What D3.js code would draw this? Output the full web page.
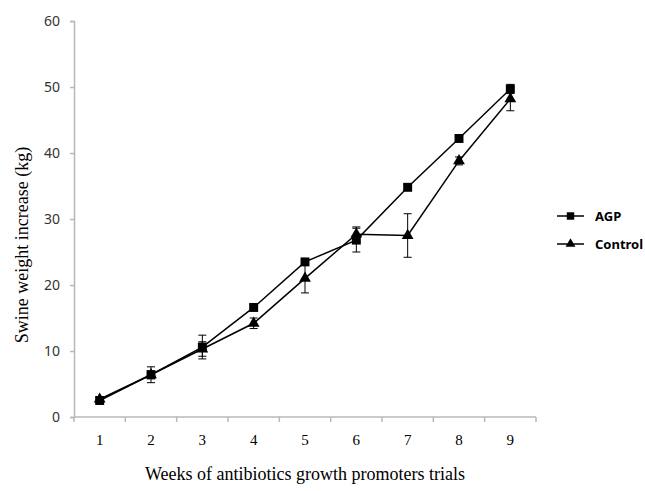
<!DOCTYPE html>
<html>
<head>
<meta charset="utf-8">
<script src="https://cdn.jsdelivr.net/npm/d3@7/dist/d3.min.js"></script>
<style>
  body { margin: 0; background: #fff; }
</style>
</head>
<body>
<div id="chart"></div>
<script>

// data
let weeks = ["1", "2", "3", "4", "5", "6", "7", "8", "9"];
let agp = [2.5, 6.4, 10.6, 16.6, 23.5, 26.8, 34.8, 42.2, 49.7];
let agpErr = [0.4, 1.2, 1.8, 0.5, 0.5, 1.8, 0.4, 0.3, 0.7];
let control = [2.7, 6.4, 10.3, 14.2, 21.0, 27.7, 27.5, 38.8, 48.2];
let controlErr = [0.3, 0.6, 1.1, 0.8, 2.2, 1.1, 3.3, 0.6, 1.8];
let yTicks = [0, 10, 20, 30, 40, 50, 60];

let svgWidth = 645, svgHeight = 491;
let margin = {top: 21, left: 74, right: 109, bottom: 74};
let width = svgWidth - margin.left - margin.right,
    height = svgHeight - margin.top - margin.bottom;

let svg = d3.select("#chart").append("svg")
    .attr("width", svgWidth)
    .attr("height", svgHeight);

let g = svg.append("g")
    .attr("transform", "translate(" + margin.left + "," + margin.top + ")");

let x = d3.scaleBand().domain(weeks).range([0, width]);
let y = d3.scaleLinear().domain([0, 60]).range([height, 0]);

// y axis
let yAxis = g.append("g")
    .call(d3.axisLeft(y).tickValues(yTicks).tickSize(4).tickSizeOuter(4).tickPadding(10));
yAxis.select(".domain").attr("stroke", "#b8b8b8").attr("stroke-width", 1.5);
yAxis.selectAll(".tick line").attr("stroke", "#b8b8b8").attr("stroke-width", 1.5);
yAxis.selectAll("text")
    .attr("font-family", "'Noto Sans', sans-serif")
    .attr("font-size", "14px")
    .attr("fill", "#333");

// x axis: ticks between categories
let xAxis = g.append("g")
    .attr("transform", "translate(0," + height + ")");
xAxis.append("line")
    .attr("x1", 0).attr("x2", width)
    .attr("stroke", "#b8b8b8").attr("stroke-width", 1.5);
let bounds = [0].concat(weeks.map(function(d) { return x(d) + x.bandwidth(); }));
xAxis.selectAll(".sep")
    .data(bounds)
    .enter().append("line")
    .attr("x1", function(d) { return d; })
    .attr("x2", function(d) { return d; })
    .attr("y1", 0).attr("y2", 5)
    .attr("stroke", "#b8b8b8").attr("stroke-width", 1.5);
xAxis.selectAll(".lab")
    .data(weeks)
    .enter().append("text")
    .attr("x", function(d) { return x(d) + x.bandwidth() / 2; })
    .attr("y", 28)
    .attr("text-anchor", "middle")
    .attr("font-family", "'Liberation Serif', serif")
    .attr("font-size", "15px")
    .attr("fill", "#000")
    .text(function(d) { return d; });

// axis titles
svg.append("text")
    .attr("x", 305).attr("y", 480)
    .attr("text-anchor", "middle")
    .attr("font-family", "'Liberation Serif', serif")
    .attr("font-size", "18px")
    .text("Weeks of antibiotics growth promoters trials");

svg.append("text")
    .attr("transform", "translate(28,245) rotate(-90)")
    .attr("text-anchor", "middle")
    .attr("font-family", "'Liberation Serif', serif")
    .attr("font-size", "18px")
    .text("Swine weight increase (kg)");

let cx = function(i) { return x(weeks[i]) + x.bandwidth() / 2; };
let line = d3.line()
    .x(function(d, i) { return cx(i); })
    .y(function(d) { return y(d); });

let series = [
    {name: "AGP", values: agp, err: agpErr, shape: d3.symbolSquare, size: 80},
    {name: "Control", values: control, err: controlErr, shape: d3.symbolTriangle, size: 60}
];

series.forEach(function(s) {
    // error bars
    let eb = g.append("g");
    s.values.forEach(function(v, i) {
        let top = y(v + s.err[i]), bot = y(v - s.err[i]);
        eb.append("line").attr("x1", cx(i)).attr("x2", cx(i)).attr("y1", top).attr("y2", bot)
            .attr("stroke", "#000").attr("stroke-width", 1);
        eb.append("line").attr("x1", cx(i) - 4).attr("x2", cx(i) + 4).attr("y1", top).attr("y2", top)
            .attr("stroke", "#000").attr("stroke-width", 1);
        eb.append("line").attr("x1", cx(i) - 4).attr("x2", cx(i) + 4).attr("y1", bot).attr("y2", bot)
            .attr("stroke", "#000").attr("stroke-width", 1);
    });

    g.append("path")
        .datum(s.values)
        .attr("d", line)
        .attr("fill", "none")
        .attr("stroke", "#000")
        .attr("stroke-width", 1.5);

    g.selectAll(".m-" + s.name)
        .data(s.values)
        .enter().append("path")
        .attr("d", d3.symbol().type(s.shape).size(s.size))
        .attr("transform", function(d, i) { return "translate(" + cx(i) + "," + y(d) + ")"; })
        .attr("fill", "#000");
});

// legend
let legend = svg.append("g").attr("transform", "translate(557,216)");
series.forEach(function(s, i) {
    let row = legend.append("g").attr("transform", "translate(0," + (i * 28) + ")");
    row.append("line").attr("x1", 0).attr("x2", 27)
        .attr("stroke", "#000").attr("stroke-width", 1.5);
    row.append("path")
        .attr("d", d3.symbol().type(s.shape).size(s.size * 0.7))
        .attr("transform", "translate(13.5,0)")
        .attr("fill", "#000");
    row.append("text")
        .attr("x", 38).attr("y", 5)
        .attr("font-family", "'Noto Sans', sans-serif")
        .attr("font-size", "13px")
        .attr("font-weight", "bold")
        .text(s.name);
});

</script>
</body>
</html>
